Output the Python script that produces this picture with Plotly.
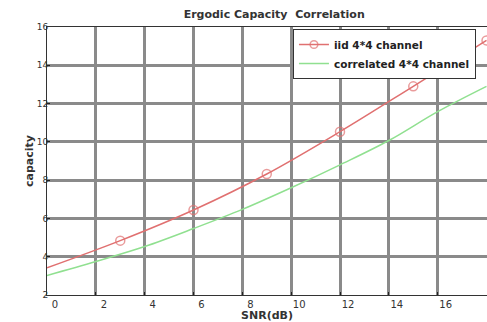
import plotly.graph_objects as go

snr_iid = [0, 3, 6, 9, 12, 15, 18]
cap_iid = [3.42, 4.84, 6.44, 8.32, 10.53, 12.9, 15.3]
marker_sizes = [0, 9, 9, 9, 9, 9, 9]

snr_corr = [0, 2, 4, 6, 8, 10, 12, 14, 16, 18]
cap_corr = [3.02, 3.75, 4.53, 5.47, 6.47, 7.6, 8.8, 10.07, 11.58, 12.9]

x_ticks = [0, 2, 4, 6, 8, 10, 12, 14, 16, 18]
y_ticks = [2, 4, 6, 8, 10, 12, 14, 16]

fig = go.Figure()
fig.add_trace(go.Scatter(
    x=snr_iid, y=cap_iid, mode="lines+markers", name="<b>iid 4*4 channel</b>",
    line=dict(color="#e07070", width=1.5, shape="spline"),
    marker=dict(symbol="circle-open", size=marker_sizes, color="#e07070",
                line=dict(width=1.5, color="#e07070")),
))
fig.add_trace(go.Scatter(
    x=snr_corr, y=cap_corr, mode="lines", name="<b>correlated 4*4 channel</b>",
    line=dict(color="#90e090", width=1.5, shape="spline"),
))

fam = "DejaVu Sans"
font = dict(family=fam, size=9, color="#333")
fig.update_layout(
    width=487, height=322,
    margin=dict(l=47, r=0, t=27, b=27),
    paper_bgcolor="white", plot_bgcolor="white",
    font=font,
    title=dict(text="<b>Ergodic Capacity  Correlation</b>", x=0.563, xanchor="center",
               y=0.955, yanchor="middle", font=dict(family=fam, size=11, color="#333")),
    showlegend=True,
    legend=dict(x=0.559, xanchor="left", y=0.9925, yanchor="top",
                bgcolor="white", bordercolor="#333", borderwidth=1,
                font=dict(family=fam, size=10.5, color="#222"), tracegroupgap=0,
                itemwidth=30),
    xaxis=dict(range=[0, 18.02], tickvals=x_ticks, ticktext=[str(v) for v in x_ticks],
               tickfont=dict(family=fam, size=10, color="#333"),
               showgrid=True, gridcolor="#8a8a8a", gridwidth=3,
               showline=True, linecolor="#333", linewidth=1, mirror=True,
               zeroline=False, ticks="inside", ticklen=3, tickcolor="#222",
               ticklabelshift=8, automargin=False,
               title=dict(text="<b>SNR(dB)</b>", standoff=1,
                          font=dict(family=fam, size=11, color="#333"))),
    yaxis=dict(range=[2, 16], tickvals=y_ticks, ticktext=[str(v) for v in y_ticks],
               tickfont=dict(family=fam, size=9, color="#333"),
               showgrid=True, gridcolor="#8a8a8a", gridwidth=3,
               showline=True, linecolor="#333", linewidth=1, mirror=True,
               zeroline=False, ticks="inside", ticklen=3, tickcolor="#222",
               ticklabelstandoff=-4, automargin=False,
               title=dict(text="<b>capacity</b>", standoff=0,
                          font=dict(family=fam, size=11, color="#333"))),
)

fig.write_html("out.html", config={"displayModeBar": False},
               post_script="document.body.style.margin='0';document.body.style.overflow='hidden';")
